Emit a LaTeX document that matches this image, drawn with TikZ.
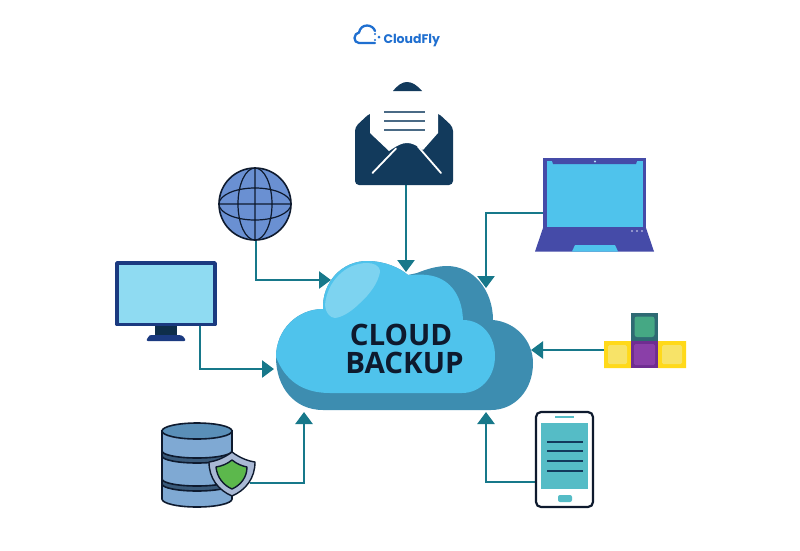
\documentclass[tikz,border=0pt]{standalone}
\usepackage{fontspec}
\setmainfont{Open Sans}
\newfontfamily\logofont{Poppins}
\usetikzlibrary{arrows.meta}
\definecolor{linkteal}{HTML}{17788A}
\definecolor{cloudlight}{HTML}{4FC3EC}
\definecolor{clouddark}{HTML}{3D8DB0}
\definecolor{cloudshine}{HTML}{7DD3F0}
\definecolor{mailnavy}{HTML}{123A5C}
\definecolor{mailline}{HTML}{4A6A85}
\definecolor{brandblue}{HTML}{1F6FD0}
\definecolor{inkdark}{HTML}{0E1A2E}
\definecolor{laptopbody}{HTML}{454BA8}
\definecolor{globeblue}{HTML}{6A90D2}
\definecolor{monitornavy}{HTML}{1B3A80}
\definecolor{monitorscreen}{HTML}{8FDBF2}
\definecolor{dbblue}{HTML}{7FA9D3}
\definecolor{dbtop}{HTML}{5A8FB8}
\definecolor{dbband}{HTML}{3A5A7A}
\definecolor{shieldgrey}{HTML}{A9B9D5}
\definecolor{shieldgreen}{HTML}{5CB84C}
\definecolor{blockyellow}{HTML}{FFD91A}
\definecolor{blockpale}{HTML}{F7E368}
\definecolor{blockpurple}{HTML}{6F2D91}
\definecolor{blockpurplein}{HTML}{8A3FA8}
\definecolor{blockteal}{HTML}{2E6A73}
\definecolor{blockgreen}{HTML}{45A884}
\definecolor{phoneteal}{HTML}{55BCC6}
\tikzset{
  link/.style={draw=linkteal,line width=2.6pt,-{Triangle[length=12pt,width=17pt]}},
  iconbox/.style={inner sep=0pt,outer sep=0pt},
  dbline/.style={draw=inkdark,line width=1.6pt,fill=#1},
  globeline/.style={draw=inkdark,line width=1.2pt},
  cloudword/.style={font=\fontsize{29.5}{30}\selectfont\bfseries,text=inkdark,inner sep=0pt},
}
\begin{document}
\begin{tikzpicture}[x=1pt,y=-1pt]
\useasboundingbox (0,0) rectangle (800,550);
\fill[white] (0,0) rectangle (800,550);

% ports
\coordinate (mailPort) at (406,185);
\coordinate (laptopPort) at (543,213);
\coordinate (globePort) at (256,240);
\coordinate (monitorPort) at (200,326);
\coordinate (dbPort) at (250,483);
\coordinate (phonePort) at (541,482);
\coordinate (blocksPort) at (605,350);
\coordinate (cloudTop) at (406,272);
\coordinate (cloudTopRight) at (486,288);
\coordinate (cloudUpperLeft) at (331,280);
\coordinate (cloudLeft) at (274,369);
\coordinate (cloudBottomLeft) at (304,412);
\coordinate (cloudBottomRight) at (486,412);
\coordinate (cloudRight) at (531,350);

% logo
\draw[brandblue,line width=2.3pt,line cap=round,line join=round]
  (375,43) -- (359,43) .. controls (356,43) and (354.5,40.5) .. (354.5,38)
  .. controls (354.5,35) and (356.5,33) .. (359,32.5)
  .. controls (360,28) and (363,25.5) .. (367,25.5)
  .. controls (371,25.5) and (374,28) .. (375,31);
\fill[brandblue] (375,34) circle (1.2) (379,37) circle (1.5) (375,40) circle (1.2);
\node[iconbox,anchor=west,text=brandblue,font=\logofont\fontsize{12.5}{13}\selectfont\bfseries] (logo) at (383.5,40.5) {CloudFly};

% connectors
\draw[link] (mailPort) -- (cloudTop);
\draw[link] (laptopPort) -| (cloudTopRight);
\draw[link] (globePort) |- (cloudUpperLeft);
\draw[link] (monitorPort) |- (cloudLeft);
\draw[link] (dbPort) -| (cloudBottomLeft);
\draw[link] (phonePort) -| (cloudBottomRight);
\draw[link] (blocksPort) -- (cloudRight);

% cloud
\fill[clouddark] (323,410)
  .. controls (295,410) and (276,388) .. (276,357)
  .. controls (276,330) and (297,309) .. (323,309)
  .. controls (322,282) and (342,261) .. (367,261)
  .. controls (385,261) and (400,268) .. (408,275)
  -- (417,273)
  .. controls (427,269) and (437,266) .. (447,266)
  .. controls (473,266) and (493,290) .. (493,320)
  .. controls (516,322) and (533,341) .. (533,363)
  .. controls (533,390) and (515,410) .. (491,410) -- cycle;
\fill[cloudlight] (276,357)
  .. controls (276,330) and (297,309) .. (323,309)
  .. controls (322,282) and (342,261) .. (367,261)
  .. controls (385,261) and (400,268) .. (408,275)
  .. controls (414,275) and (420,274) .. (427,275)
  .. controls (447,277) and (462,292) .. (463,320)
  .. controls (482,320) and (495,336) .. (495,356)
  .. controls (495,378) and (480,393) .. (462,393)
  -- (330,393)
  .. controls (302,393) and (285,380) .. (276,357) -- cycle;
\fill[cloudshine] (325,305)
  .. controls (327,282) and (345,263) .. (367,263)
  .. controls (373,263) and (380,265) .. (380,272)
  .. controls (378,283) and (370,294) .. (360,303)
  .. controls (352,311) and (343,317) .. (335,318)
  .. controls (330,318) and (325,312) .. (325,305) -- cycle;
\node[cloudword] (cloudA) at (401,335) {CLOUD};
\node[cloudword] (cloudB) at (404.5,363) {BACKUP};

% mail
\node[iconbox,minimum width=98pt,minimum height=103pt] (mail) at (404,133.5) {};
\fill[mailnavy] (393,91) .. controls (398,85) and (402,82) .. (407,82)
  .. controls (412,82) and (417,85) .. (422,91) -- cycle;
\fill[mailnavy,rounded corners=4pt] (355,127) -- (370,113) -- (438,113) -- (453,127) -- (453,185) -- (355,185) -- cycle;
\fill[white] (370,108) -- (438,108) -- (438,133) -- (423,150)
  .. controls (416,145) and (412,143) .. (407,143)
  .. controls (402,143) and (398,145) .. (389,151) -- (370,133) -- cycle;
\draw[white,line width=1.8pt,line cap=round] (372.5,173) -- (396,148.5) (418,146.5) -- (441,173);
\draw[mailline,line width=2pt] (384,112) -- (425,112) (384,121) -- (425,121) (384,130) -- (425,130);

% laptop
\node[iconbox,minimum width=119pt,minimum height=94pt] (laptop) at (594.5,205) {};
\fill[laptopbody] (543,158) rectangle (646,229);
\fill[laptopbody] (543,228) -- (646,228) -- (654,251.5) -- (535,251.5) -- cycle;
\fill[cloudlight] (547,161) rectangle (643,227);
\fill[laptopbody] (552,161) -- (637,161) -- (636,164) -- (553,164) -- cycle;
\fill[white!70!cyan] (595,161.5) circle (1.1);
\fill[cloudlight] (575,245) -- (615,245) -- (618,251.5) -- (572,251.5) -- cycle;
\fill[white!55!laptopbody] (632,231) circle (1.1) (637,231) circle (1.1) (642,231) circle (1.1);

% globe
\node[iconbox,circle,minimum size=72pt] (globe) at (255,204) {};
\fill[globeblue] (255,204) circle (36);
\draw[globeline] (255,204) ellipse (17 and 36) (255,204) ellipse (36 and 16)
  (255,168) -- (255,240) (219,204) -- (291,204);
\draw[globeline,line width=1.6pt] (255,204) circle (36);

% monitor
\node[iconbox,minimum width=102pt,minimum height=79pt] (monitor) at (166,300.5) {};
\fill[mailnavy!80!black] (155,326) rectangle (177,335);
\fill[monitornavy,rounded corners=2pt] (146,341) -- (148,337) .. controls (150,335) and (152,335) .. (155,335) -- (177,335) .. controls (180,335) and (183,335) .. (186,341) -- cycle;
\draw[monitornavy,line width=3.6pt,fill=monitorscreen,line join=round] (117,263) rectangle (215,324.5);

% database
\node[iconbox,minimum width=70pt,minimum height=88pt] (db) at (197,467) {};
\draw[dbline=dbblue] (162,431) -- (232,431) -- (232,499)
  arc[start angle=0,end angle=180,x radius=35,y radius=8] -- cycle;
\draw[dbline=dbtop] (197,431) ellipse (35 and 8);
\draw[dbline=dbband] (232,451) arc[start angle=0,end angle=180,x radius=35,y radius=7]
  -- (162,456) arc[start angle=180,end angle=0,x radius=35,y radius=7] -- cycle;
\draw[dbline=dbband] (232,479) arc[start angle=0,end angle=180,x radius=35,y radius=7]
  -- (162,484) arc[start angle=180,end angle=0,x radius=35,y radius=7] -- cycle;
% shield
\draw[inkdark,line width=1.4pt,fill=shieldgrey,line join=round]
  (232,452) .. controls (240,458) and (248,461) .. (255,462)
  .. controls (255,478) and (246,490) .. (232,496)
  .. controls (218,490) and (209,478) .. (209,462)
  .. controls (216,461) and (224,458) .. (232,452) -- cycle;
\draw[inkdark,line width=1.4pt,fill=shieldgreen,line join=round]
  (232,460) .. controls (237,464) and (242,466) .. (247,467)
  .. controls (247,477) and (241,485) .. (232,489)
  .. controls (223,485) and (217,477) .. (216,467)
  .. controls (222,466) and (227,464) .. (232,460) -- cycle;

% blocks
\node[iconbox,minimum width=82pt,minimum height=55pt] (blocks) at (645,340.5) {};
\fill[blockyellow] (604,341) rectangle (631,368) (658,341) rectangle (686,368);
\fill[blockpale,rounded corners=1.5pt] (608,345) rectangle (627,364) (662,345) rectangle (682,364);
\fill[blockpurple] (631,341) rectangle (658,368);
\fill[blockpurplein,rounded corners=1.5pt] (634,344) rectangle (655,365);
\fill[blockteal] (631,313) rectangle (658,341);
\fill[blockgreen,rounded corners=2.5pt] (634.5,316.5) rectangle (654.5,337);

% phone
\node[iconbox,minimum width=57pt,minimum height=95pt] (phone) at (564.5,459.5) {};
\draw[inkdark,line width=2.2pt,fill=white,rounded corners=5pt] (536,412) rectangle (593,507);
\fill[phoneteal] (541,423) rectangle (588,489);
\draw[mailnavy,line width=1.7pt] (547,442) -- (583,442) (547,451) -- (583,451) (547,461) -- (583,461) (547,471) -- (583,471);
\draw[phoneteal,line width=1.6pt] (555,417) -- (574,417);
\fill[phoneteal,rounded corners=2pt] (558,495) rectangle (572,502);
\end{tikzpicture}
\end{document}
